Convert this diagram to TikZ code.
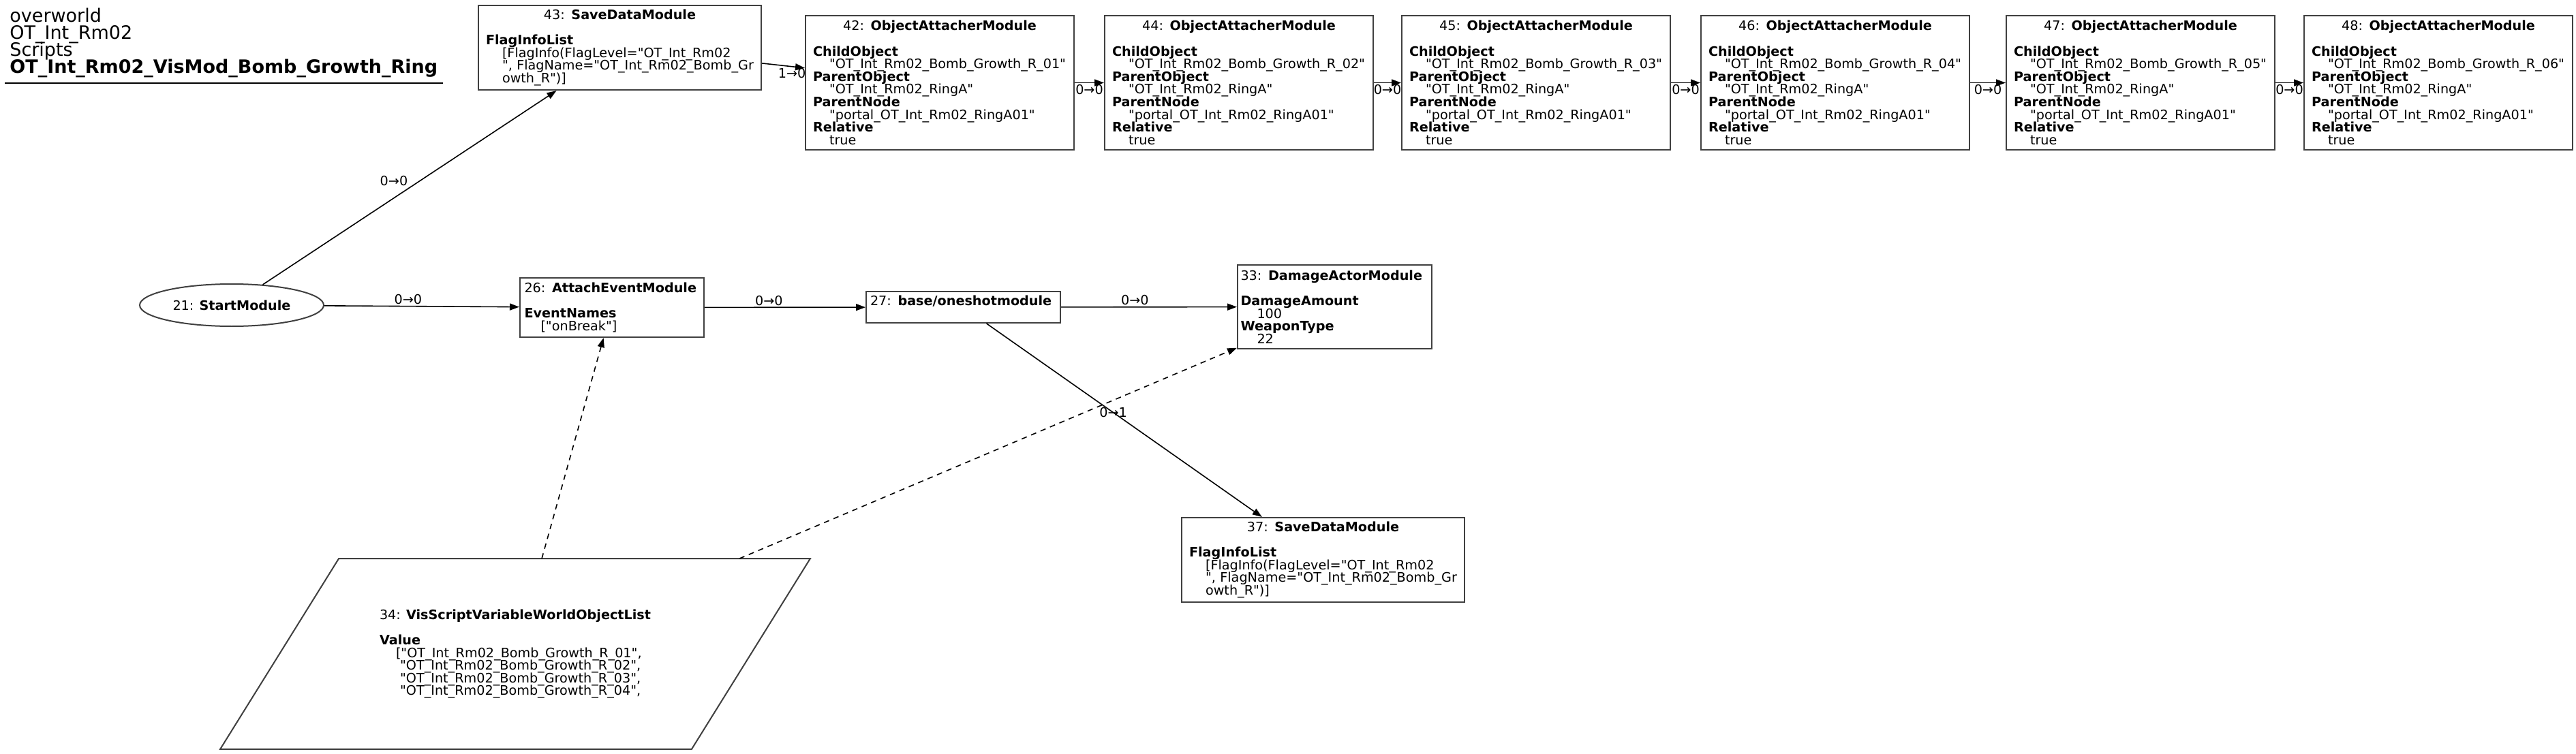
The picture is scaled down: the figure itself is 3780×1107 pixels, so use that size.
\documentclass[tikz,border=0pt]{standalone}
\usepackage{fontspec}
\setmainfont{DejaVu Sans}[Ligatures=TeXOff]
\usetikzlibrary{arrows.meta}
\usetikzlibrary{calc}
\usetikzlibrary{positioning}
\usetikzlibrary{shapes.geometric}
\newcommand{\nfont}{\fontsize{9.6}{9.3}\selectfont\lineskiplimit=-6pt}
\newcommand{\hfont}{\fontsize{13.5}{12.5}\selectfont\lineskiplimit=-6pt}
\newcommand{\ctr}[1]{\hspace*{0pt plus 1filll}\mbox{#1}\hspace*{0pt plus 1filll}\mbox{}}
\newcommand{\ind}{\hspace*{12pt}}
\newcommand{\gap}{\\[9.3pt]}
\newcommand{\attacher}[2]{\ctr{#1: \textbf{ObjectAttacherModule}}\gap
  \textbf{ChildObject}\\\ind"OT\_Int\_Rm02\_Bomb\_Growth\_R\_#2"\\
  \textbf{ParentObject}\\\ind"OT\_Int\_Rm02\_RingA"\\
  \textbf{ParentNode}\\\ind"portal\_OT\_Int\_Rm02\_RingA01"\\
  \textbf{Relative}\\\ind true}
\newcommand{\flaginfo}{\textbf{FlagInfoList}\\
  \ind[FlagInfo(FlagLevel="OT\_Int\_Rm02\\
  \ind",~FlagName="OT\_Int\_Rm02\_Bomb\_Gr\\
  \ind owth\_R")]}

\begin{document}
\begin{tikzpicture}[x=0.5pt, y=-0.5pt, >={Triangle[length=7pt,width=5pt]}]

    \tikzstyle{box} = [rectangle, draw=black!75, line width=1pt, anchor=north west, align=left, font=\nfont, inner ysep=3pt, inner xsep=5.5pt]
    \tikzstyle{attach} = [box, text width=186pt, minimum height=98.5pt]
    \tikzstyle{oval} = [ellipse, draw=black!75, line width=1pt, font=\nfont, minimum width=135pt, minimum height=31pt, inner sep=0pt]
    \tikzstyle{lab} = [font=\nfont, inner sep=1pt]
    \tikzstyle{link} = [->, line width=0.8pt]
    \tikzstyle{dlink} = [->, line width=0.8pt, dash pattern=on 4pt off 3.5pt]

    \path[use as bounding box, fill=white] (0,0) rectangle (3780,1107);

    % Title %%%%%%%%%%%%%%%%%%%%%%%%%%%%%%%%%%%%%%%%%%%%%%%%%%%%%%%%%%%%%%%%%%%%%%%%%%%%%%%%
    \node[anchor=north west, inner xsep=3.5pt, inner ysep=3.75pt, align=left, font=\hfont] (title) at (7,4)
      {overworld\\OT\_Int\_Rm02\\Scripts\\\textbf{OT\_Int\_Rm02\_VisMod\_Bomb\_Growth\_Ring}};
    \draw[line width=1pt] (title.south west) -- (title.south east);

    % Modules %%%%%%%%%%%%%%%%%%%%%%%%%%%%%%%%%%%%%%%%%%%%%%%%%%%%%%%%%%%%%%%%%%%%%%%%%%%%%%
    \node[oval] (v21) at (340,448) {21: \textbf{StartModule}};

    \node[box, text width=196.5pt, minimum height=60.5pt] (v43) at (701,7)
      {\ctr{43: \textbf{SaveDataModule}}\gap\flaginfo};

    \node[attach] (v42) at (1181,22) {\attacher{42}{01}};
    \node[attach, right=21.5pt of v42] (v44) {\attacher{44}{02}};
    \node[attach, right=20pt of v44] (v45) {\attacher{45}{03}};
    \node[attach, right=21.5pt of v45] (v46) {\attacher{46}{04}};
    \node[attach, right=26pt of v46] (v47) {\attacher{47}{05}};
    \node[attach, right=20.5pt of v47] (v48) {\attacher{48}{06}};

    \node[box, text width=128.5pt, inner xsep=3.25pt, minimum height=43.5pt] (v26) at (762,407)
      {\mbox{26: \textbf{AttachEventModule}}\gap\textbf{EventNames}\\\ind["onBreak"]};
    \node[box, text width=136.5pt, inner xsep=3pt, minimum height=23pt] (v27) at (1270,427)
      {\mbox{27: \textbf{base/oneshotmodule}}\\\mbox{}};
    \node[box, text width=138pt, inner xsep=2.25pt, minimum height=61.5pt] (v33) at (1815,388)
      {\mbox{33: \textbf{DamageActorModule}}\gap\textbf{DamageAmount}\\\ind100\\\textbf{WeaponType}\\\ind22};
    \node[box, text width=196.5pt, minimum height=61.5pt] (v37) at (1733,759)
      {\ctr{37: \textbf{SaveDataModule}}\gap\flaginfo};

    \node[font=\nfont, align=left, minimum width=345.5pt, minimum height=139.5pt] (v34) at (756,960)
      {34: \textbf{VisScriptVariableWorldObjectList}\gap\textbf{Value}\\
       \ind["OT\_Int\_Rm02\_Bomb\_Growth\_R\_01",\\
       \ind\ "OT\_Int\_Rm02\_Bomb\_Growth\_R\_02",\\
       \ind\ "OT\_Int\_Rm02\_Bomb\_Growth\_R\_03",\\
       \ind\ "OT\_Int\_Rm02\_Bomb\_Growth\_R\_04",};
    \draw[draw=black!75, line width=1pt] ($(v34.north west)+(87,0)$) -- ($(v34.north east)+(87,0)$)
      -- ($(v34.south east)+(-87,0)$) -- ($(v34.south west)+(-87,0)$) -- cycle;

    % Now link the nodes %%%%%%%%%%%%%%%%%%%%%%%%%%%%%%%%%%%%%%%%%%%%%%%%%%%%%%%%%%%%%%%%%%%
    \draw[link] (v21) -- ($(v43.south)+(-93,0)$) node[lab, pos=0.5, anchor=south east] {0→0};
    \draw[link] (v21) -- (v26) node[lab, pos=0.43, above] {0→0};
    \draw[link] (v26) -- (v27) node[lab, pos=0.4, above] {0→0};
    \draw[link] (v27) -- (v33) node[lab, pos=0.42, above] {0→0};
    \draw[link] (v27) -- (v37) node[lab, pos=0.46] {0→1};

    \draw[link] (v43) -- (v42) node[lab, pos=0.7, below] {1→0};
    \draw[link] (v42) -- (v44) node[lab, midway, below] {0→0};
    \draw[link] (v44) -- (v45) node[lab, midway, below] {0→0};
    \draw[link] (v45) -- (v46) node[lab, midway, below] {0→0};
    \draw[link] (v46) -- (v47) node[lab, midway, below] {0→0};
    \draw[link] (v47) -- (v48) node[lab, midway, below] {0→0};

    \draw[dlink] (v34) -- (v26);
    \draw[dlink] (v34) -- (v33);

\end{tikzpicture}
\end{document}
